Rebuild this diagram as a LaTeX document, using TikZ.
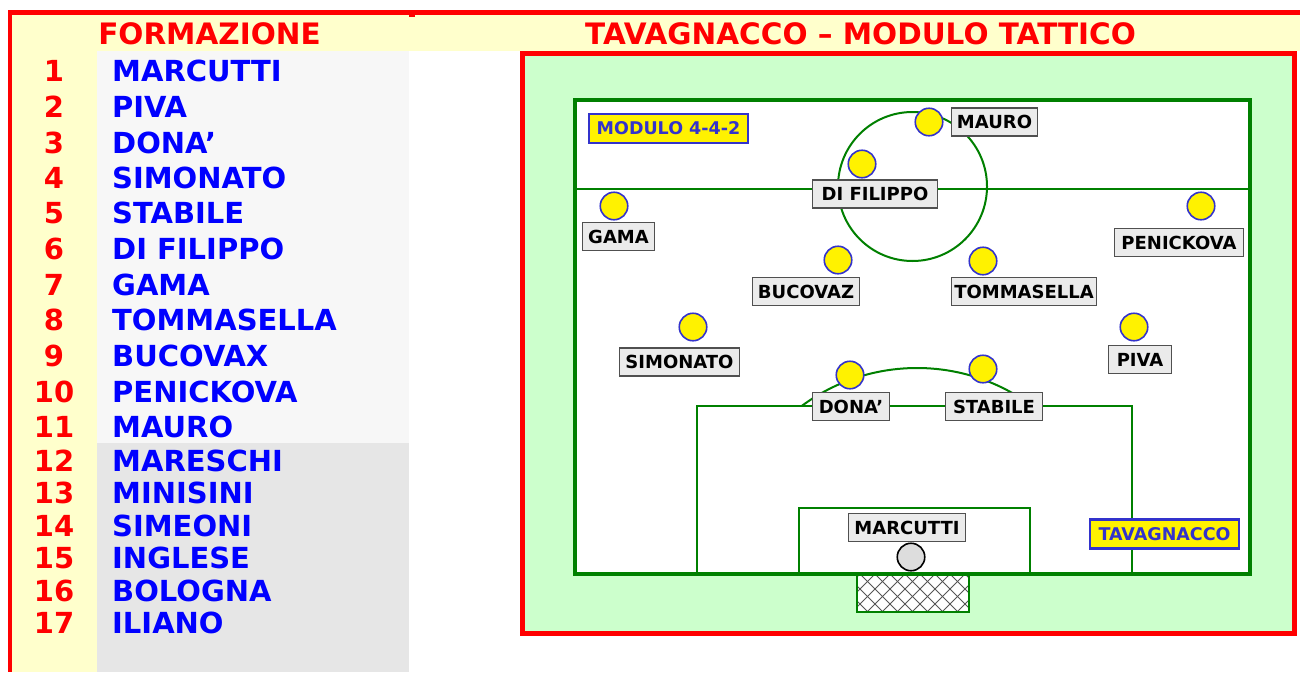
\documentclass[tikz,border=0pt]{standalone}
\usepackage{fontspec}
\setmainfont{DejaVu Sans}
\definecolor{bandyellow}{HTML}{FFFFCC}
\definecolor{listlight}{HTML}{F7F7F7}
\definecolor{listgray}{HTML}{E6E6E6}
\definecolor{pitchbg}{HTML}{CCFFCC}
\definecolor{pitchgreen}{HTML}{008000}
\definecolor{ringblue}{HTML}{3333CC}
\definecolor{nameblue}{HTML}{0000FF}
\definecolor{taggray}{HTML}{EBEBEB}
\definecolor{tagborder}{HTML}{505050}
\definecolor{keepgray}{HTML}{DDDDDD}
\definecolor{netgray}{HTML}{555555}
\tikzset{
  listnum/.style={anchor=base, text=red, font=\fontsize{29}{30}\selectfont\bfseries, inner sep=0pt},
  listname/.style={anchor=base west, text=nameblue, font=\fontsize{29}{30}\selectfont\bfseries, inner sep=0pt},
  titletext/.style={anchor=base, text=red, font=\fontsize{29.5}{30}\selectfont\bfseries, inner sep=0pt},
  player/.style={circle, fill=yellow, draw=ringblue, line width=1.6pt, minimum size=27.5pt, inner sep=0pt},
  keeper/.style={circle, fill=keepgray, draw=black, line width=1.6pt, minimum size=27.5pt, inner sep=0pt},
  tag/.style={draw=tagborder, fill=taggray, line width=1.2pt, inner sep=0pt,
    font=\fontsize{18}{19}\selectfont\bfseries, text height=13pt, text depth=0pt, minimum height=28pt},
  badge/.style={draw=ringblue, fill=yellow, text=ringblue, line width=2.2pt, inner sep=0pt,
    font=\fontsize{17.5}{18}\selectfont\bfseries, text height=12.8pt, text depth=0pt, minimum height=29pt},
  fieldline/.style={draw=pitchgreen, line width=2pt},
}
\begin{document}
\begin{tikzpicture}[x=1pt,y=-1pt]
\useasboundingbox (0,0) rectangle (1300,672);
% backgrounds
\fill[bandyellow] (10,15) rectangle (1300,51);
\fill[bandyellow] (10,51) rectangle (97,672);
\fill[listlight] (97,51) rectangle (409,443);
\fill[listgray] (97,443) rectangle (409,672);
% outer red frame lines
\draw[red, line width=5pt] (10,12.5) -- (1300,12.5);
\draw[red, line width=4.5pt] (10,10) -- (10,672);
\fill[red] (409,15) rectangle (415,16.5);
% titles
\node[titletext] (t1) at (209.5,44) {FORMAZIONE};
\node[titletext] (t2) at (860.5,44) {TAVAGNACCO – MODULO TATTICO};
% list
\foreach \n/\nm/\yy in {1/MARCUTTI/81, 2/PIVA/117, 3/DONA’/153, 4/SIMONATO/188, 5/STABILE/223,
  6/DI FILIPPO/259, 7/GAMA/295, 8/TOMMASELLA/330, 9/BUCOVAX/366, 10/PENICKOVA/402, 11/MAURO/437,
  12/MARESCHI/471, 13/MINISINI/503, 14/SIMEONI/536, 15/INGLESE/568, 16/BOLOGNA/601, 17/ILIANO/633}{
  \node[listnum] (num\n) at (54,\yy) {\n};
  \node[listname] (name\n) at (112,\yy) {\nm};
}
% pitch panel
\fill[pitchbg] (522.5,53.5) rectangle (1294.5,633.5);
\draw[red, line width=5pt] (522.5,53.5) rectangle (1294.5,633.5);
\fill[white] (575,100) rectangle (1250,574);
\draw[fieldline] (575,189) -- (1250,189);
\draw[fieldline] (912.5,186.5) circle[radius=74.5pt];
\begin{scope}
  \clip (690,300) rectangle (1140,405);
  \draw[fieldline] (917,562) circle[radius=194pt];
\end{scope}
\draw[fieldline] (697,574) -- (697,406) -- (1132,406) -- (1132,574);
\draw[fieldline] (799,574) -- (799,508) -- (1030,508) -- (1030,574);
% goal net
\fill[white] (857,574) rectangle (969,612);
\begin{scope}
  \clip (857,574) rectangle (969,612);
  \foreach \xx in {800,815,...,1030}{
    \draw[netgray, line width=0.9pt] (\xx,574) -- (\xx+38,612);
    \draw[netgray, line width=0.9pt] (\xx,574) -- (\xx-38,612);
  }
\end{scope}
\draw[fieldline] (857,574) rectangle (969,612);
% field border
\draw[pitchgreen, line width=4pt] (575,100) rectangle (1250,574);
% badges
\node[badge, minimum width=159pt] (modulo) at (668.5,128.5) {MODULO 4-4-2};
\node[badge, minimum width=149pt] (squad) at (1164.5,534) {TAVAGNACCO};
% players
\node[player] (pMauro) at (929,122) {};
\node[player] (pDifilippo) at (862,164) {};
\node[player] (pGama) at (614,206) {};
\node[player] (pPenickova) at (1201,206) {};
\node[player] (pBucovaz) at (838,260) {};
\node[player] (pTommasella) at (983,261) {};
\node[player] (pSimonato) at (693,327) {};
\node[player] (pPiva) at (1134,327) {};
\node[player] (pDona) at (850,375) {};
\node[player] (pStabile) at (983,369) {};
\node[keeper] (pMarcutti) at (911,557) {};
% labels
\node[tag, minimum width=86pt] (lMauro) at (994.5,122) {MAURO};
\node[tag, minimum width=125pt] (lDifilippo) at (875,194) {DI FILIPPO};
\node[tag, minimum width=72pt] (lGama) at (618.5,236.5) {GAMA};
\node[tag, minimum width=129pt] (lPenickova) at (1179,242.5) {PENICKOVA};
\node[tag, minimum width=107pt] (lBucovaz) at (806,291.5) {BUCOVAZ};
\node[tag, minimum width=145pt] (lTommasella) at (1024,291.5) {TOMMASELLA};
\node[tag, minimum width=120pt] (lSimonato) at (679.5,362) {SIMONATO};
\node[tag, minimum width=63pt] (lPiva) at (1140,359.5) {PIVA};
\node[tag, minimum width=77pt] (lDona) at (851,406.5) {DONA’};
\node[tag, minimum width=97pt] (lStabile) at (994,406.5) {STABILE};
\node[tag, minimum width=117pt] (lMarcutti) at (907,527.5) {MARCUTTI};
\end{tikzpicture}
\end{document}
